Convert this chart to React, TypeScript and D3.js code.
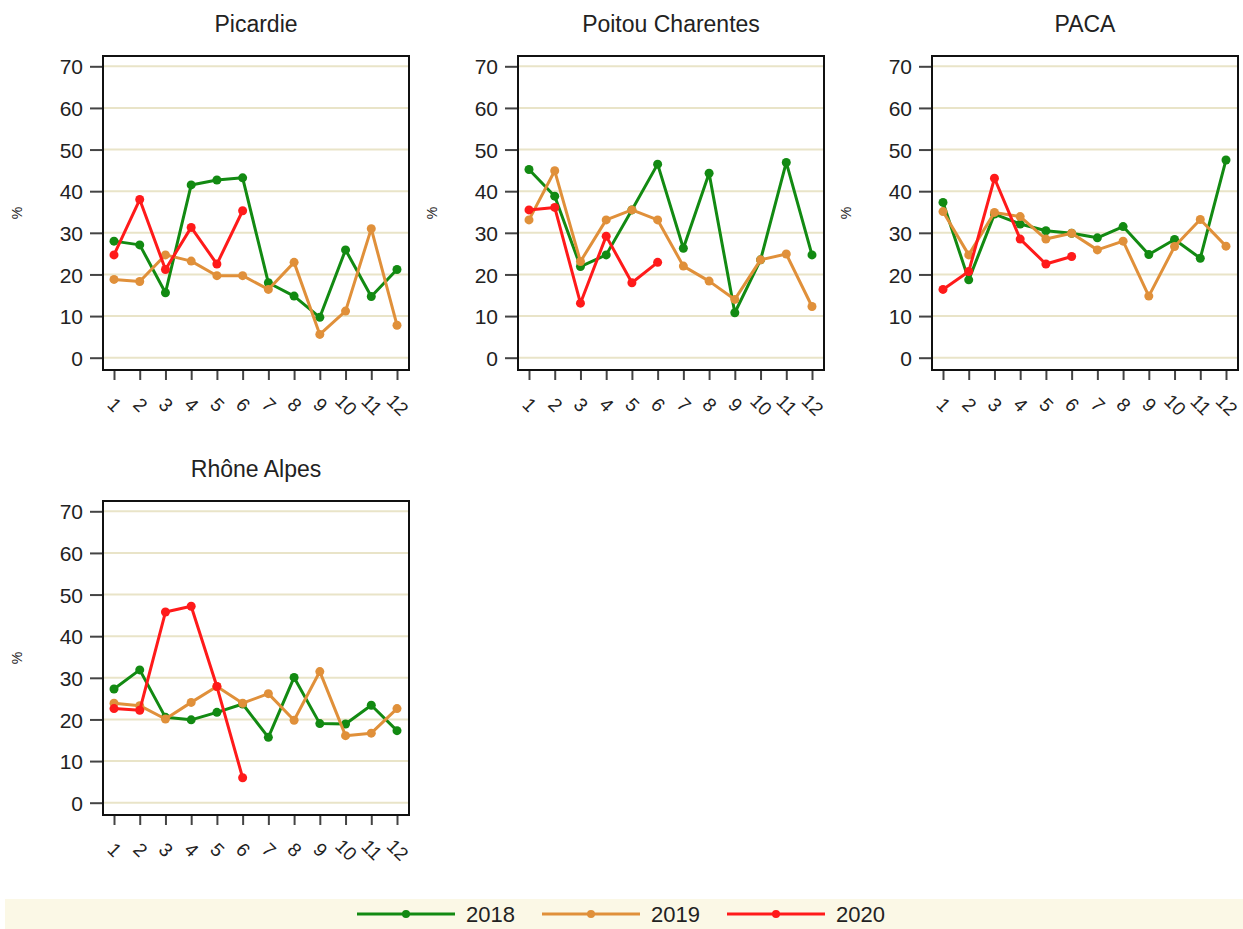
import React, { useEffect, useRef } from "react";
import * as d3 from "d3";

// months on the x axis
const months = ["1", "2", "3", "4", "5", "6", "7", "8", "9", "10", "11", "12"];
const yTicks = [0, 10, 20, 30, 40, 50, 60, 70];
const years = ["2018", "2019", "2020"];
const yearColors = ["#128a12", "#e0903a", "#ff1a1a"];
const regions = ["Picardie", "Poitou Charentes", "PACA", "Rhône Alpes"];

// Picardie
const picardie2018 = [28.0, 27.1, 15.6, 41.5, 42.7, 43.2, 18.0, 14.8, 9.7, 25.9, 14.7, 21.2];
const picardie2019 = [18.8, 18.3, 24.7, 23.2, 19.7, 19.7, 16.4, 22.9, 5.6, 11.2, 31.0, 7.8];
const picardie2020 = [24.7, 38.0, 21.2, 31.3, 22.5, 35.3];

// Poitou Charentes
const poitou2018 = [45.2, 38.8, 21.9, 24.7, 35.5, 46.5, 26.3, 44.3, 10.8, 23.5, 46.9, 24.7];
const poitou2019 = [33.1, 44.9, 23.1, 33.1, 35.5, 33.1, 22.0, 18.4, 14.0, 23.5, 24.9, 12.3];
const poitou2020 = [35.5, 36.1, 13.1, 29.2, 18.0, 22.9];

// PACA
const paca2018 = [37.3, 18.7, 34.5, 32.1, 30.5, 29.9, 28.8, 31.5, 24.8, 28.4, 23.9, 47.5];
const paca2019 = [35.1, 24.7, 34.9, 33.9, 28.5, 29.9, 25.9, 28.0, 14.8, 26.7, 33.2, 26.8];
const paca2020 = [16.4, 20.7, 43.1, 28.5, 22.5, 24.3];

// Rhône Alpes
const rhone2018 = [27.3, 31.9, 20.5, 19.9, 21.7, 23.7, 15.7, 30.1, 19.0, 18.9, 23.4, 17.3];
const rhone2019 = [23.9, 23.3, 20.1, 24.1, 27.9, 23.9, 26.2, 19.8, 31.5, 16.1, 16.7, 22.6];
const rhone2020 = [22.6, 22.2, 45.8, 47.2, 27.9, 6.0];

const regionSeries = [
  [picardie2018, picardie2019, picardie2020],
  [poitou2018, poitou2019, poitou2020],
  [paca2018, paca2019, paca2020],
  [rhone2018, rhone2019, rhone2020],
];

const FONT = "'Liberation Sans', Arial, sans-serif";

const App = () => {
  const ref = useRef<SVGSVGElement>(null);

  useEffect(() => {
    const svg = d3.select(ref.current);
    svg.selectAll("*").remove();

    const W = 1243;
    const H = 929;
    const pw = 306; // frame width
    const ph = 314; // frame height
    const colLeft = [103, 518, 932];
    const rowTop = [56, 501];

    const x = d3.scalePoint<string>().domain(months).range([11, 294]);
    const y = d3.scaleLinear().domain([0, 70]).range([ph - 12.3, 10.3]);

    regions.forEach((name, i) => {
      const left = colLeft[i % 3];
      const top = rowTop[Math.floor(i / 3)];
      const g = svg.append("g").attr("transform", `translate(${left},${top})`);

      // gridlines
      g.append("g")
        .selectAll("line")
        .data(yTicks)
        .enter()
        .append("line")
        .attr("x1", 0)
        .attr("x2", pw)
        .attr("y1", (d) => y(d))
        .attr("y2", (d) => y(d))
        .attr("stroke", "#e9e4c8")
        .attr("stroke-width", 2);

      // y axis
      const ya = g
        .append("g")
        .call(d3.axisLeft(y).tickValues(yTicks).tickSize(13).tickPadding(7));
      ya.select(".domain").remove();
      ya.selectAll("line").attr("stroke", "#444").attr("stroke-width", 2);
      ya.selectAll("text")
        .attr("font-size", 21)
        .attr("font-family", FONT)
        .attr("fill", "#222")
        .attr("dy", "0.36em");

      // x axis
      const xa = g
        .append("g")
        .attr("transform", `translate(0,${ph})`)
        .call(d3.axisBottom(x).tickSize(10));
      xa.select(".domain").remove();
      xa.selectAll("line").attr("stroke", "#444").attr("stroke-width", 2);
      xa.selectAll("text")
        .attr("y", 0)
        .attr("dy", null)
        .attr("transform", "translate(0,35) rotate(45)")
        .attr("text-anchor", "middle")
        .attr("dominant-baseline", "central")
        .attr("font-size", 19)
        .attr("font-family", FONT)
        .attr("fill", "#222");

      // series
      const line = d3
        .line<number>()
        .x((_, j) => x(months[j]) as number)
        .y((d) => y(d));

      regionSeries[i].forEach((vals, k) => {
        g.append("path")
          .datum(vals)
          .attr("d", line)
          .attr("fill", "none")
          .attr("stroke", yearColors[k])
          .attr("stroke-width", 3)
          .attr("stroke-linejoin", "round");
        g.append("g")
          .selectAll("circle")
          .data(vals)
          .enter()
          .append("circle")
          .attr("cx", (_, j) => x(months[j]) as number)
          .attr("cy", (d) => y(d))
          .attr("r", 4.5)
          .attr("fill", yearColors[k]);
      });

      // frame
      g.append("rect")
        .attr("width", pw)
        .attr("height", ph)
        .attr("fill", "none")
        .attr("stroke", "#111")
        .attr("stroke-width", 2);

      // title
      g.append("text")
        .attr("x", pw / 2)
        .attr("y", -24)
        .attr("text-anchor", "middle")
        .attr("font-size", 23)
        .attr("font-family", FONT)
        .attr("fill", "#222")
        .text(name);

      // y label
      g.append("text")
        .attr("transform", `translate(-86,${ph / 2}) rotate(-90)`)
        .attr("text-anchor", "middle")
        .attr("dominant-baseline", "central")
        .attr("font-size", 14)
        .attr("font-family", FONT)
        .attr("fill", "#222")
        .text("%");
    });

    // legend
    const lg = svg.append("g");
    lg.append("rect")
      .attr("x", 5)
      .attr("y", 899)
      .attr("width", W - 5)
      .attr("height", H - 899)
      .attr("fill", "#fbf8e6");
    years.forEach((yr, k) => {
      const lx = 357 + k * 185;
      const ly = 914;
      lg.append("line")
        .attr("x1", lx)
        .attr("x2", lx + 98)
        .attr("y1", ly)
        .attr("y2", ly)
        .attr("stroke", yearColors[k])
        .attr("stroke-width", 3);
      lg.append("circle").attr("cx", lx + 49).attr("cy", ly).attr("r", 4).attr("fill", yearColors[k]);
      lg.append("text")
        .attr("x", lx + 109)
        .attr("y", ly)
        .attr("dominant-baseline", "central")
        .attr("font-size", 22)
        .attr("font-family", FONT)
        .attr("fill", "#222")
        .text(yr);
    });
  }, []);

  return (
    <div style={{ position: "absolute", left: 0, top: 0 }}>
      <svg ref={ref} width={1243} height={929} style={{ display: "block", background: "#fff" }} />
    </div>
  );
};

export default App;
